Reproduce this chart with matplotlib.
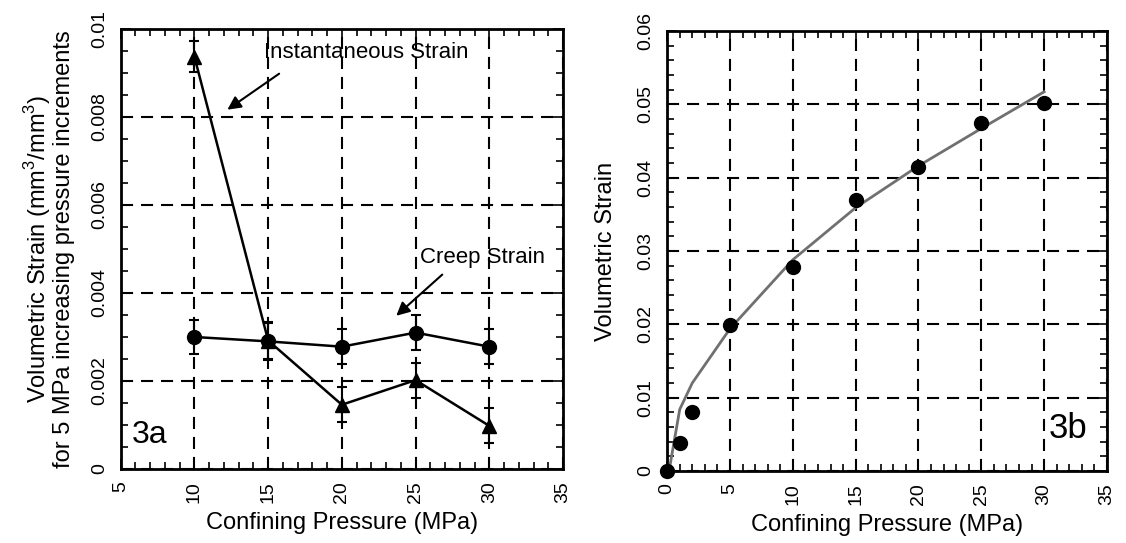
import matplotlib
matplotlib.use("Agg")
import matplotlib.pyplot as plt
from matplotlib.ticker import MultipleLocator, FormatStrFormatter

plt.rcParams['font.family'] = ['Liberation Sans', 'DejaVu Sans']
plt.rcParams['mathtext.fontset'] = 'custom'
plt.rcParams['mathtext.rm'] = 'Liberation Sans'

# 3a data
pressure_a = [10, 15, 20, 25, 30]
instant_strain = [0.00937, 0.00292, 0.00146, 0.00202, 0.00098]
instant_err = [0.00035, 0.00042, 0.0004, 0.0004, 0.0004]
creep_strain = [0.00300, 0.00290, 0.00278, 0.00310, 0.00278]
creep_err = [0.00039, 0.00042, 0.0004, 0.0004, 0.0004]

# 3b data
pressure_b = [0, 1, 2, 5, 10, 15, 20, 25, 30]
vol_strain = [0.0, 0.0038, 0.0080, 0.0199, 0.0278, 0.0369, 0.0414, 0.0475, 0.0502]
fit_x = [0.15, 1, 2, 5, 10, 15, 20, 25, 30]
fit_y = [0.0, 0.0084, 0.0120, 0.0194, 0.0288, 0.0359, 0.0416, 0.0467, 0.0517]

fig = plt.figure(figsize=(11.26, 5.43), dpi=100)
ax1 = fig.add_axes([0.1072, 0.1363, 0.3928, 0.8103])
ax2 = fig.add_axes([0.5925, 0.1326, 0.3906, 0.8104])

grid_style = dict(color='black', linewidth=1.5, linestyle=(0, (5.8, 3.8)))


def style_axes(ax):
    for s in ax.spines.values():
        s.set_linewidth(2)
    ax.tick_params(which='both', direction='in', top=True, right=True,
                   width=1.2, labelsize=14, pad=9, labelrotation=90)
    ax.tick_params(which='major', length=7)
    ax.tick_params(which='minor', length=5)
    ax.grid(True, which='major', **grid_style)
    ax.set_axisbelow(True)
    ax.xaxis.set_major_formatter(FormatStrFormatter('%g'))
    ax.yaxis.set_major_formatter(FormatStrFormatter('%g'))
    for lab in ax.get_yticklabels():
        lab.set_va('center')


# ---- 3a ----
ax1.set_xlim(5, 35)
ax1.set_ylim(0, 0.01)
ax1.xaxis.set_major_locator(MultipleLocator(5))
ax1.xaxis.set_minor_locator(MultipleLocator(1))
ax1.yaxis.set_major_locator(MultipleLocator(0.002))
ax1.yaxis.set_minor_locator(MultipleLocator(0.0005))
style_axes(ax1)

ax1.errorbar(pressure_a, creep_strain, yerr=creep_err, color='black', lw=1.8,
             marker='o', ms=10, capsize=3.8, capthick=1.5, elinewidth=1.5, zorder=3)
ax1.errorbar(pressure_a, instant_strain, yerr=instant_err, color='black', lw=1.8,
             marker='^', ms=10, capsize=3.8, capthick=1.5, elinewidth=1.5, zorder=3)

ax1.text(21.66, 0.00947, 'Instantaneous Strain', fontsize=16, ha='center', va='center')
ax1.annotate('', xy=(12.08, 0.00813), xytext=(15.9, 0.00902),
             arrowprops=dict(arrowstyle='-|>', color='black', lw=1.5, mutation_scale=20))
ax1.text(29.56, 0.00481, 'Creep Strain', fontsize=16, ha='center', va='center')
ax1.annotate('', xy=(23.55, 0.00344), xytext=(26.95, 0.00446),
             arrowprops=dict(arrowstyle='-|>', color='black', lw=1.5, mutation_scale=20))
ax1.text(5.75, 0.00077, '3a', fontsize=23, ha='left', va='center')

ax1.set_xlabel('Confining Pressure (MPa)', fontsize=17, labelpad=6)
ax1.set_ylabel('Volumetric Strain (mm$^3$/mm$^3$)\nfor 5 MPa increasing pressure increments',
               fontsize=17, labelpad=12, linespacing=1.0)

# ---- 3b ----
ax2.set_xlim(0, 35)
ax2.set_ylim(0, 0.06)
ax2.xaxis.set_major_locator(MultipleLocator(5))
ax2.xaxis.set_minor_locator(MultipleLocator(1))
ax2.yaxis.set_major_locator(MultipleLocator(0.01))
ax2.yaxis.set_minor_locator(MultipleLocator(0.002))
style_axes(ax2)

ax2.plot(fit_x, fit_y, color='#707070', lw=2, zorder=3)
ax2.plot(pressure_b, vol_strain, 'o', color='black', ms=10, zorder=4, clip_on=False)
ax2.text(30.4, 0.0058, '3b', fontsize=25, ha='left', va='center')

ax2.set_xlabel('Confining Pressure (MPa)', fontsize=17, labelpad=6)
ax2.set_ylabel('Volumetric Strain', fontsize=17, labelpad=15)

fig.savefig('out.png', dpi=100)
